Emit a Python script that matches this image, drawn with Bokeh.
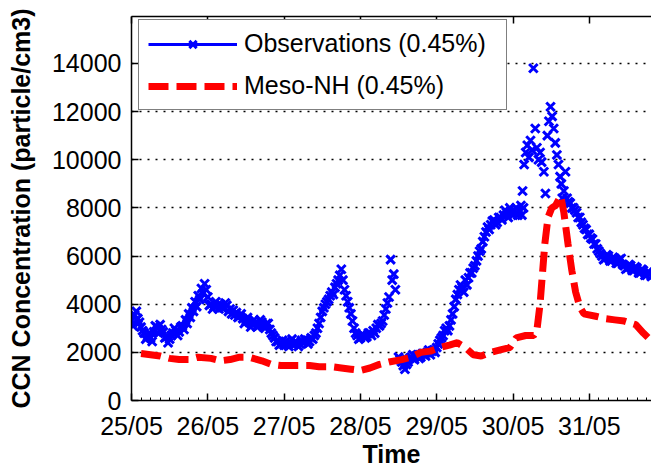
from bokeh.plotting import figure
from bokeh.models import Range1d, FixedTicker, LinearAxis, Legend, LegendItem
from bokeh.embed import file_html
from bokeh.resources import INLINE

# ---- data (time in hours since 25/05 00:00) ----
tick_days = [0, 1, 2, 3, 4, 5, 6]
tick_labels = ["25/05", "26/05", "27/05", "28/05", "29/05", "30/05", "31/05"]
y_ticks = [0, 2000, 4000, 6000, 8000, 10000, 12000, 14000]

# Observations, half-hourly segment 25/05 00:00 -> 28/05 11:00
obs_a_start = 0.0
obs_a_ccn = [3300, 3100, 3550, 3700, 3400, 3250, 3050, 2900, 2800, 2550, 2650, 2800, 2600, 2450, 2850, 3100, 3050, 2800, 3150, 2950,
             2850, 2600, 2650, 2400, 2550, 2700, 2800, 3000, 2900, 2700, 2850, 3050, 3100, 2950, 3350, 3200, 3600, 3450, 3850, 3700,
             4100, 3900, 4350, 4200, 4650, 4450, 4850, 4600, 4300, 3950, 4000, 3800, 3900, 4100, 3950, 3800, 4000, 3850, 3850, 4050,
             3950, 3700, 3800, 3600, 3750, 3550, 3650, 3450, 3500, 3600, 3400, 3200, 3300, 3450, 3250, 3050, 3150, 3350, 3250, 3050,
             3100, 3350, 3250, 3100, 3000, 3200, 3200, 2950, 2800, 2700, 2600, 2450, 2450, 2300, 2350, 2500, 2300, 2450, 2350, 2250,
             2400, 2550, 2300, 2450, 2400, 2250, 2350, 2500, 2400, 2550, 2500, 2350, 2450, 2600, 2550, 2700, 2800, 3000, 3200, 3450,
             3700, 3850, 4000, 4100, 4200, 4350, 4500, 4400, 4700, 4850, 5000, 5200, 5450, 5000, 4600, 4350, 4100, 3850, 3600, 3300,
             3000, 2800, 2700, 2550, 2600, 2750, 2700, 2600, 2650, 2800, 2800, 2700, 2900, 2800, 3000, 3150, 3100, 3200, 3300, 3550,
             3800, 4050, 4300, 5850, 5000, 5250, 4600]
# half-hourly segment 28/05 12:00 -> 30/05 01:30
obs_b_start = 84.0
obs_b_ccn = [1800, 1700, 1600, 1450, 1300, 1500, 1600, 1750, 1800, 1900, 1700, 1850, 1900, 1750, 1800, 1950, 1950, 1850, 2000, 2100,
             1900, 2050, 2100, 2000, 2200, 2350, 2500, 2600, 2700, 2900, 3000, 2900, 3100, 3350, 3600, 3900, 4200, 4400, 4600, 4800,
             4700, 4500, 5000, 4800, 5100, 5300, 5300, 5500, 5600, 5800, 6000, 6200, 6300, 6600, 6800, 7000, 7200, 7100, 7300, 7450,
             7500, 7300, 7400, 7600, 7600, 7500, 7700, 7900, 7800, 7600, 8000, 7800, 7700, 7900, 8000, 7700]
# irregular cluster around the 30/05 maximum
obs_c_hour = [122, 122.5, 122.8, 123, 123.3, 123.5, 124, 124.5, 125, 125.5, 126, 126.4, 127, 127.5, 128, 128.5,
              129, 129.7, 130.2, 130.8, 131.3, 131.8, 132.3, 132.8, 133.3, 133.8, 134.3, 134.8, 135.2, 135.5,
              136, 136.5]
obs_c_ccn = [7900, 8100, 7700, 8700, 8000, 9800, 10300, 10600, 10100, 10800, 10400, 13800, 11300, 10500, 10000, 10300,
             9900, 9500, 8600, 11000, 11600, 12200, 11800, 11300, 10700, 10200, 9800, 9300, 9000, 8400,
             8700, 9500]
# half-hourly segment 30/05 17:00 -> 31/05 19:30
obs_d_start = 137.0
obs_d_ccn = [8400, 8250, 8200, 8000, 8000, 7900, 7800, 7600, 7600, 7400, 7300, 7150, 7100, 6900, 6900, 6750, 6700, 6500, 6500, 6300,
             6200, 6100, 6000, 5850, 5900, 6050, 6000, 5800, 5800, 5950, 5900, 5700, 5700, 5850, 5900, 5650, 5600, 5450, 5500, 5650,
             5600, 5400, 5400, 5550, 5500, 5300, 5300, 5450, 5400, 5200, 5200, 5350, 5300, 5150]

model_hour = [3, 6, 9, 12, 15, 18, 21, 25, 28, 31, 34, 37, 41, 44, 47, 50, 53, 56, 59, 63,
              66, 69, 72, 75, 78, 81, 85, 88, 91, 94, 97, 100, 102.5, 105, 107.5, 110, 113, 116, 119, 121,
              124, 126.5, 127.5, 128.5, 129.4, 130, 131, 132.2, 133.4, 135, 136, 137.3, 138.5, 139.7, 141,
              142.3, 146, 149, 152, 155, 158.6, 161, 163.7]
model_ccn = [1950, 1900, 1850, 1750, 1700, 1700, 1800, 1750, 1650, 1700, 1800, 1800, 1650, 1500, 1450, 1450, 1450, 1450, 1400, 1400,
             1350, 1300, 1250, 1350, 1500, 1600, 1700, 1800, 2000, 2050, 2200, 2300, 2400, 2200, 1900, 1850, 2000, 2100, 2200, 2600,
             2700, 2700, 2900, 4000, 5500, 6500, 7600, 8000, 8100, 8500, 7800, 6500, 5400, 4500, 3900,
             3600, 3500, 3400, 3350, 3300, 3150, 2800, 2450]

# sample times of the half-hourly segments
def half_hours(start, n):
    return [start + 0.5 * i for i in range(n)]

obs_hour = (half_hours(obs_a_start, len(obs_a_ccn)) + half_hours(obs_b_start, len(obs_b_ccn))
            + obs_c_hour + half_hours(obs_d_start, len(obs_d_ccn)))
obs_ccn = obs_a_ccn + obs_b_ccn + obs_c_ccn + obs_d_ccn

obs_day = [h / 24.0 for h in obs_hour]
model_day = [h / 24.0 for h in model_hour]

FONT = "Liberation Sans"

p = figure(width=651, height=473, output_backend="svg", toolbar_location=None,
           x_range=Range1d(0, 6.815), y_range=Range1d(0, 15950),
           min_border_left=131, min_border_right=0, min_border_top=16, min_border_bottom=73)
p.outline_line_color = None
p.background_fill_color = "white"
p.border_fill_color = "white"

minor = [d / 8.0 for d in range(0, 55) if d % 8 != 0]
xa = p.xaxis[0]
xa.ticker = FixedTicker(ticks=tick_days, minor_ticks=minor)
xa.major_label_overrides = {d: lab for d, lab in zip(tick_days, tick_labels)}
xa.axis_label = "Time"
ya = p.yaxis[0]
ya.ticker = FixedTicker(ticks=y_ticks)
ya.major_label_overrides = {v: str(v) for v in y_ticks}
ya.axis_label = "CCN Concentration (particle/cm3)"

for ax in (xa, ya):
    ax.axis_line_color = "black"
    ax.axis_line_width = 1.5
    ax.major_tick_in = 7
    ax.major_tick_out = 0
    ax.major_tick_line_width = 1.5
    ax.major_tick_line_color = "black"
    ax.minor_tick_in = 3
    ax.minor_tick_out = 0
    ax.minor_tick_line_color = "black"
    ax.minor_tick_line_width = 1
    ax.major_label_text_font = FONT
    ax.major_label_text_font_size = "25px"
    ax.major_label_text_color = "black"
    ax.axis_label_text_font = FONT
    ax.axis_label_text_font_size = "25px"
    ax.axis_label_text_font_style = "bold"
    ax.axis_label_text_color = "black"
ya.minor_tick_line_color = None
xa.major_label_standoff = 11
xa.axis_label_standoff = -3
ya.major_label_standoff = 10
ya.axis_label_standoff = 14

top = LinearAxis(ticker=FixedTicker(ticks=tick_days), axis_line_width=1.5,
                 major_tick_in=7, major_tick_out=0, major_tick_line_width=1.5,
                 minor_tick_line_color=None, major_label_text_color=None,
                 major_label_text_font_size="1px", major_label_standoff=0)
p.add_layout(top, "above")

p.xgrid.visible = False
p.ygrid.grid_line_color = "black"
p.ygrid.grid_line_dash = "2 6"
p.ygrid.grid_line_width = 1.5

sc = p.scatter(obs_day, obs_ccn, marker="x", size=12, line_color="#0000ff", line_width=3)
dummy = p.line(x=[float("nan")], y=[float("nan")], line_color="#0000ff", line_width=3)
red = p.line(model_day, model_ccn, line_color="#ff0000", line_width=7, line_dash="20 8")

legend = Legend(items=[LegendItem(label="Observations (0.45%)", renderers=[dummy, sc]),
                       LegendItem(label="Meso-NH (0.45%)", renderers=[red])],
                location=(7, 290), margin=0, padding=9, spacing=13,
                glyph_width=89, glyph_height=26, label_height=26, label_standoff=7, label_width=253,
                label_text_font=FONT, label_text_font_size="25px", label_text_color="black",
                border_line_color="black", border_line_width=1.5,
                background_fill_color="white", background_fill_alpha=1.0)
p.add_layout(legend)

open("out.html", "w").write(file_html(p, INLINE))
